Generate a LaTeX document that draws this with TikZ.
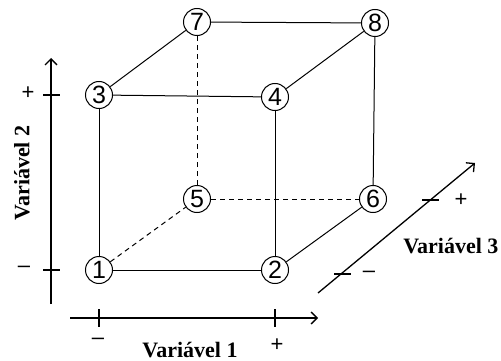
\documentclass[tikz,border=0pt]{standalone}
\usepackage{fontspec}
\setmainfont{Liberation Serif}
\newfontfamily\numfont{Liberation Sans}
\usetikzlibrary{arrows.meta}

\begin{document}
\begin{tikzpicture}[x=1pt, y=-1pt,
      vertex/.style={circle, draw, line width=1pt, minimum size=27pt, inner sep=0pt,
        font=\numfont\fontsize{25}{25}\selectfont},
      edge/.style={line width=1pt},
      hidden/.style={line width=1pt, dash pattern=on 5pt off 4pt},
      axis/.style={line width=1.3pt, -{Straight Barb[length=6pt, width=12pt, line width=1.3pt]}},
      tick/.style={line width=1.3pt},
      varlabel/.style={font=\bfseries\fontsize{22}{22}\selectfont},
      sign/.style={font=\numfont\fontsize{22}{22}\selectfont}
    ]
      \useasboundingbox (0,0) rectangle (501,361);
      % cube vertices
      \node[vertex] (v1) at (99,270) {1};
      \node[vertex] (v2) at (275,270) {2};
      \node[vertex] (v3) at (99,95) {3};
      \node[vertex] (v4) at (275,97) {4};
      \node[vertex] (v5) at (197,199) {5};
      \node[vertex] (v6) at (373,199) {6};
      \node[vertex] (v7) at (197,22) {7};
      \node[vertex] (v8) at (375,23) {8};
      \draw[edge] (v1) -- (v2);
      \draw[edge] (v1) -- (v3);
      \draw[edge] (v3) -- (v4);
      \draw[edge] (v2) -- (v4);
      \draw[edge] (v3) -- (v7);
      \draw[edge] (v7) -- (v8);
      \draw[edge] (v4) -- (v8);
      \draw[edge] (v8) -- (v6);
      \draw[edge] (v2) -- (v6);
      \draw[hidden] (v1) -- (v5);
      \draw[hidden] (v5) -- (v6);
      \draw[hidden] (v5) -- (v7);
      % axis of variable 1
      \coordinate (x0) at (70,318);
      \coordinate (x1) at (318,318);
      \draw[axis] (x0) -- (x1);
      \draw[tick] (99,309) -- (99,327);
      \draw[tick] (275,309) -- (275,327);
      \node[sign] (xm) at (98,341) {–};
      \node[sign] (xp) at (277,345) {+};
      \node[varlabel] (xlab) at (190,350) {Variável 1};
      % axis of variable 2
      \coordinate (y0) at (51,304);
      \coordinate (y1) at (51,58);
      \draw[axis] (y0) -- (y1);
      \draw[tick] (43,95) -- (60,95);
      \draw[tick] (43,270) -- (60,270);
      \node[sign] (ym) at (24,269) {–};
      \node[sign] (yp) at (28,93) {+};
      \node[varlabel, rotate=90] (ylab) at (22,173) {Variável 2};
      % axis of variable 3
      \coordinate (z0) at (318,293);
      \coordinate (z1) at (475,163);
      \draw[axis] (z0) -- (z1);
      \draw[tick] (334,274) -- (351,274);
      \draw[tick] (422,200) -- (439,200);
      \node[sign] (zm) at (369,274) {–};
      \node[sign] (zp) at (461,200) {+};
      \node[varlabel, anchor=east] (zlab) at (502,246) {Variável 3};
    \end{tikzpicture}
\end{document}
